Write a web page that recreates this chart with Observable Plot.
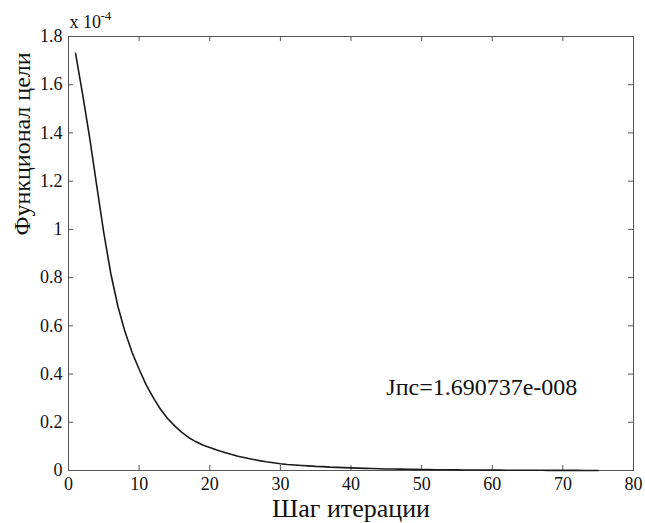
<!DOCTYPE html>
<html>
<head>
<meta charset="utf-8">
<script src="https://cdn.jsdelivr.net/npm/d3@7"></script>
<script src="https://cdn.jsdelivr.net/npm/@observablehq/plot@0.6"></script>
<style>
  html, body { margin: 0; padding: 0; background: #fff; }
  #chart svg { display: block; }
  #chart svg, #chart svg text { font-family: "Times New Roman", Times, "Liberation Serif", "DejaVu Serif", serif !important; }
</style>
</head>
<body>
<div id="chart"></div>
<script>
// Iteration steps
const iterations = [
  1, 2, 3, 4, 5, 6, 7, 8, 9, 10,
  11, 12, 13, 14, 15, 16, 17, 18, 19, 20,
  21, 22, 23, 24, 25, 26, 27, 28, 29, 30,
  31, 32, 33, 34, 35, 36, 37, 38, 39, 40,
  41, 42, 43, 44, 45, 46, 47, 48, 49, 50,
  51, 52, 53, 54, 55, 56, 57, 58, 59, 60,
  61, 62, 63, 64, 65, 66, 67, 68, 69, 70,
  71, 72, 73, 74, 75
];
// Objective functional values, in units of 1e-4
const objective = [
  1.730, 1.560, 1.380, 1.180, 0.985, 0.815, 0.680, 0.575, 0.490, 0.420,
  0.355, 0.302, 0.255, 0.217, 0.186, 0.159, 0.137, 0.120, 0.106, 0.095,
  0.085, 0.076, 0.067, 0.059, 0.053, 0.047, 0.041, 0.036, 0.032, 0.028,
  0.025, 0.023, 0.021, 0.019, 0.017, 0.016, 0.014, 0.013, 0.012, 0.011,
  0.010, 0.009, 0.008, 0.007, 0.0065, 0.006, 0.0055, 0.005, 0.0045, 0.004,
  0.0037, 0.0034, 0.0031, 0.0028, 0.0025, 0.0023, 0.0021, 0.0019, 0.0017, 0.0015,
  0.0014, 0.0013, 0.0012, 0.0011, 0.0010, 0.0009, 0.0008, 0.0007, 0.0006, 0.0005,
  0.00045, 0.0004, 0.0003, 0.00025, 0.0002
];
const xTicks = [0, 10, 20, 30, 40, 50, 60, 70, 80];
const yTicks = [0, 0.2, 0.4, 0.6, 0.8, 1.0, 1.2, 1.4, 1.6, 1.8];
const xLabel = "Шаг итерации";
const yLabel = "Функционал цели";
const annotation = "Jпс=1.690737e-008";
const annotationPos = {x: 45, y: 0.315};
const scaleBase = "x 10";
const scaleExp = "-4";

const data = iterations.map((it, i) => ({it, v: objective[i]}));

const W = 645, H = 523;
const mL = 68, mR = 12, mT = 36, mB = 53;
const fw = W - mL - mR, fh = H - mT - mB;
const tick = 5;
const serif = "Times New Roman, Times, Liberation Serif, DejaVu Serif, serif";

const chart = Plot.plot({
  width: W,
  height: H,
  marginLeft: mL,
  marginRight: mR,
  marginTop: mT,
  marginBottom: mB,
  style: {fontFamily: serif, background: "#fff", color: "#111"},
  x: {domain: [0, 80]},
  y: {domain: [0, 1.8]},
  marks: [
    // inward ticks on all four sides (box style)
    Plot.tickX(xTicks, {x: d => d, insetTop: fh - tick, stroke: "#555", strokeWidth: 1}),
    Plot.tickX(xTicks, {x: d => d, insetBottom: fh - tick, stroke: "#555", strokeWidth: 1}),
    Plot.tickY(yTicks, {y: d => d, insetRight: fw - tick, stroke: "#555", strokeWidth: 1}),
    Plot.tickY(yTicks, {y: d => d, insetLeft: fw - tick, stroke: "#555", strokeWidth: 1}),
    Plot.axisX(xTicks, {
      tickSize: 0, tickPadding: 7, fontSize: 18, label: null, fill: "#111", fontFamily: serif
    }),
    Plot.axisY(yTicks, {
      tickSize: 0, tickPadding: 6, fontSize: 18, label: null, fill: "#111", fontFamily: serif,
      tickFormat: d => String(+d.toFixed(1))
    }),
    Plot.frame({stroke: "#555", strokeWidth: 1}),
    Plot.line(data, {x: "it", y: "v", stroke: "#1a1a1a", strokeWidth: 1.6}),
    Plot.text([annotation], {
      x: () => annotationPos.x, y: () => annotationPos.y, text: d => d,
      textAnchor: "start", lineAnchor: "bottom", fontSize: 24, fill: "#111", fontFamily: serif
    }),
    Plot.text([xLabel], {
      frameAnchor: "bottom", text: d => d, dy: 38, fontSize: 26, fill: "#111", lineAnchor: "middle", fontFamily: serif
    }),
    Plot.text([yLabel], {
      frameAnchor: "left", text: d => d, dx: -46, dy: -18, rotate: -90, fontSize: 24, fill: "#111", lineAnchor: "middle", fontFamily: serif
    }),
    Plot.text([scaleBase], {
      frameAnchor: "top-left", text: d => d, dx: 1, dy: -9, textAnchor: "start", lineAnchor: "bottom",
      fontSize: 18, fill: "#111", fontFamily: serif
    }),
    Plot.text([scaleExp], {
      frameAnchor: "top-left", text: d => d, dx: 32, dy: -17, textAnchor: "start", lineAnchor: "bottom",
      fontSize: 13, fill: "#111", fontFamily: serif
    })
  ]
});
document.getElementById("chart").appendChild(chart);
</script>
</body>
</html>
